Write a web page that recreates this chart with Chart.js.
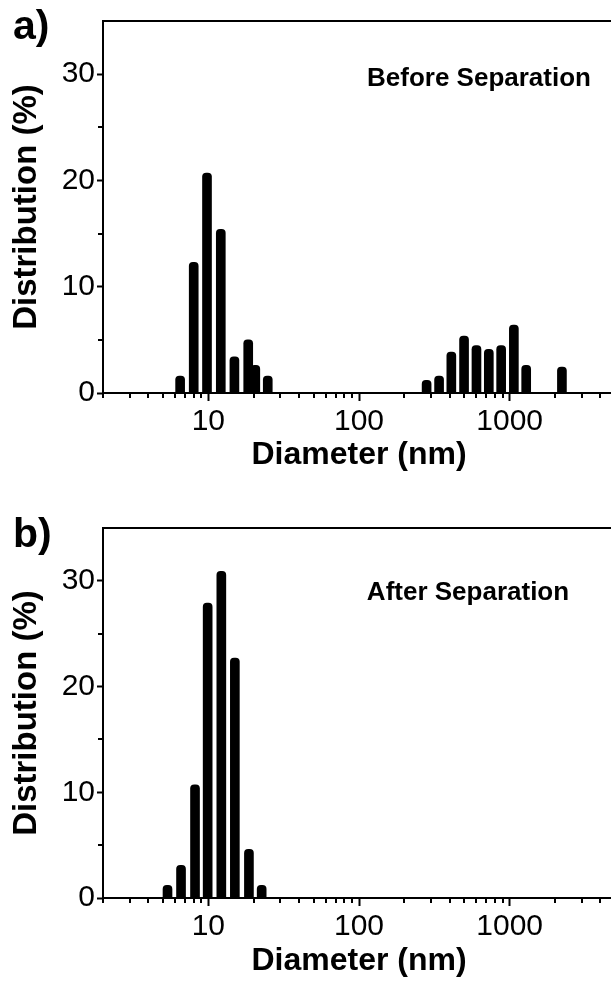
<!DOCTYPE html>
<html>
<head>
<meta charset="utf-8">
<title>Size distribution</title>
<script src="https://cdn.jsdelivr.net/npm/chart.js@4.4.1/dist/chart.umd.min.js"></script>
<style>
    html, body { margin: 0; padding: 0; overflow: hidden; background: #fff; }
    body { position: relative; width: 611px; height: 988px; font-family: Arial, "Liberation Sans", sans-serif; color: #000; }
    .panel { position: absolute; left: 0; }
    #panelA { top: 0; }
    #panelB { top: 480px; }
    .tag { position: absolute; left: 13px; font-size: 41px; line-height: 40px; font-weight: bold; }
    .note { position: absolute; width: 260px; text-align: center; font-size: 26px; line-height: 26px; font-weight: bold; white-space: nowrap; }
</style>
</head>
<body>
<div class="panel" id="panelA"><canvas id="chartA" width="618" height="480"></canvas></div>
<div class="panel" id="panelB"><canvas id="chartB" width="618" height="508"></canvas></div>
<div class="tag" style="top:5px">a)</div>
<div class="tag" style="top:513px">b)</div>
<div class="note" style="left:349px; top:64px">Before Separation</div>
<div class="note" style="left:338px; top:578px">After Separation</div>

<script>
"use strict";

// diameter (nm) og fordeling (%) før separasjon
const sizesBefore = [6.5, 8.0, 9.8, 12.1, 14.9, 18.4, 20.5, 24.8,
    281, 340, 410, 498, 602, 727, 878, 1066, 1287, 2222];
const distBefore = [1.6, 12.3, 20.7, 15.4, 3.4, 5.0, 2.6, 1.6,
    1.2, 1.6, 3.85, 5.35, 4.45, 4.1, 4.45, 6.4, 2.6, 2.45];

// etter separasjon
const sizesAfter = [5.36, 6.59, 8.16, 9.9, 12.2, 15.0, 18.6, 22.6];
const distAfter = [1.2, 3.1, 10.7, 27.9, 30.9, 22.7, 4.6, 1.2];

// akser
const xTicks = [10, 100, 1000];
const xMinorTicks = [2, 3, 4, 5, 6, 7, 8, 9, 20, 30, 40, 50, 60, 70, 80, 90,
    200, 300, 400, 500, 600, 700, 800, 900, 2000, 3000, 4000];
const yTicks = [0, 10, 20, 30];
const yMinorTicks = [5, 15, 25];

const FONT = 'Arial, "Liberation Sans", sans-serif';

/**
 * Tegner ramme øverst og små hjelpestreker på aksene
 */
const frameTicks = {
    id: 'frameTicks',
    afterDraw(chart) {
        const { ctx, chartArea, scales: { x, y } } = chart;
        ctx.save();
        ctx.strokeStyle = '#000';
        ctx.lineWidth = 2;
        ctx.beginPath();
        ctx.moveTo(chartArea.left - 1, chartArea.top);
        ctx.lineTo(chartArea.right, chartArea.top);
        xMinorTicks.forEach(v => {
            const px = Math.round(x.getPixelForValue(v));
            ctx.moveTo(px, chartArea.bottom);
            ctx.lineTo(px, chartArea.bottom + 5);
        });
        yMinorTicks.forEach(v => {
            const py = Math.round(y.getPixelForValue(v));
            ctx.moveTo(chartArea.left, py);
            ctx.lineTo(chartArea.left - 5, py);
        });
        ctx.stroke();
        ctx.restore();
    }
};

/**
 * Lager ett stolpediagram med logaritmisk x-akse
 */
function createChart(canvasId, sizes, values, padTop, xAxisHeight, titlePad) {
    const ctx = document.getElementById(canvasId).getContext('2d');
    return new Chart(ctx, {
        type: 'bar',
        data: {
            datasets: [{
                data: sizes.map((s, i) => ({ x: s, y: values[i] })),
                backgroundColor: '#000',
                barThickness: 9,
                borderRadius: 4,
                borderSkipped: 'start'
            }]
        },
        options: {
            responsive: false,
            animation: false,
            devicePixelRatio: 1,
            layout: { padding: { top: padTop, right: 3, left: 0, bottom: 0 } },
            plugins: {
                legend: { display: false },
                tooltip: { enabled: false }
            },
            scales: {
                x: {
                    type: 'logarithmic',
                    min: 2,
                    max: 5000,
                    offset: false,
                    afterBuildTicks: scale => {
                        scale.ticks = xTicks.map(v => ({ value: v, major: true }));
                    },
                    afterFit: scale => { scale.height = xAxisHeight; },
                    ticks: {
                        callback: v => String(v),
                        color: '#000',
                        font: { size: 30, family: FONT },
                        padding: 3,
                        maxRotation: 0,
                        autoSkip: false
                    },
                    grid: {
                        display: true,
                        offset: false,
                        drawOnChartArea: false,
                        tickLength: 8,
                        tickWidth: 2,
                        tickColor: '#000'
                    },
                    border: { display: true, color: '#000', width: 2 },
                    title: {
                        display: true,
                        text: 'Diameter (nm)',
                        color: '#000',
                        font: { size: 32, weight: 'bold', family: FONT },
                        padding: { top: 0, bottom: titlePad }
                    }
                },
                y: {
                    min: 0,
                    max: 35,
                    afterBuildTicks: scale => {
                        scale.ticks = yTicks.map(v => ({ value: v }));
                    },
                    afterFit: scale => { scale.width = 103; },
                    ticks: {
                        color: '#000',
                        font: { size: 30, family: FONT },
                        padding: 2
                    },
                    grid: {
                        display: true,
                        drawOnChartArea: false,
                        tickLength: 6,
                        tickWidth: 2,
                        tickColor: '#000'
                    },
                    border: { display: true, color: '#000', width: 2 },
                    title: {
                        display: true,
                        text: 'Distribution (%)',
                        color: '#000',
                        font: { size: 33, weight: 'bold', family: FONT },
                        padding: { top: 7, bottom: 0 }
                    }
                }
            }
        },
        plugins: [frameTicks]
    });
}

createChart('chartA', sizesBefore, distBefore, 21, 87, 6);
createChart('chartB', sizesAfter, distAfter, 48, 90, 8);
</script>
</body>
</html>
